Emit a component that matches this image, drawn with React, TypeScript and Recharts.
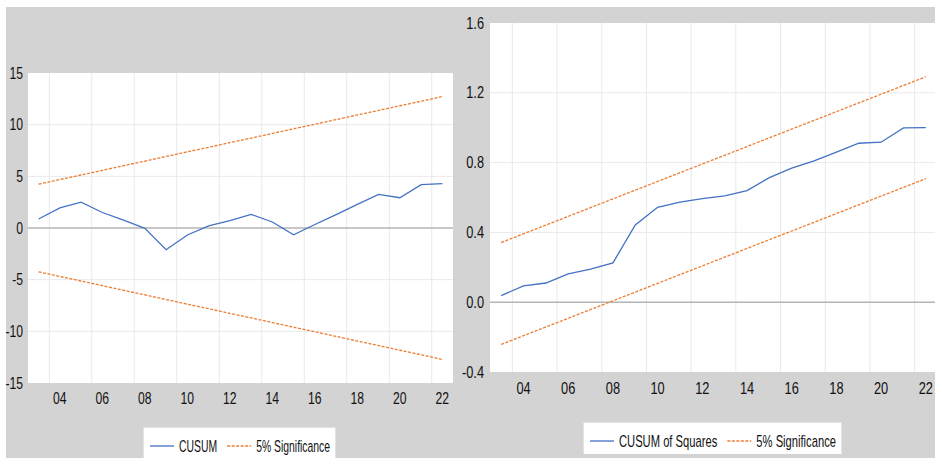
import { LineChart, Line, XAxis, YAxis, CartesianGrid, ReferenceLine, Legend } from "recharts";

const years = [
  2003, 2004, 2005, 2006, 2007, 2008, 2009, 2010, 2011, 2012,
  2013, 2014, 2015, 2016, 2017, 2018, 2019, 2020, 2021, 2022,
];
const cusum = [
  0.87, 1.94, 2.5, 1.5, 0.76, -0.03, -2.1, -0.68, 0.2, 0.72,
  1.32, 0.58, -0.65, 0.34, 1.3, 2.28, 3.26, 2.93, 4.2, 4.29,
];
const cusumUpper = [
  4.24, 4.69, 5.13, 5.58, 6.03, 6.47, 6.92, 7.37, 7.81, 8.26,
  8.7, 9.15, 9.6, 10.04, 10.49, 10.94, 11.38, 11.83, 12.27, 12.72,
];
const cusumLower = [
  -4.24, -4.69, -5.13, -5.58, -6.03, -6.47, -6.92, -7.37, -7.81, -8.26,
  -8.7, -9.15, -9.6, -10.04, -10.49, -10.94, -11.38, -11.83, -12.27, -12.72,
];
const cusumSq = [
  0.038, 0.093, 0.11, 0.162, 0.189, 0.225, 0.443, 0.544, 0.573, 0.594,
  0.609, 0.64, 0.714, 0.768, 0.81, 0.86, 0.911, 0.917, 0.999, 1.0,
];
const sqUpper = [
  0.342, 0.392, 0.442, 0.492, 0.542, 0.592, 0.642, 0.692, 0.742, 0.792,
  0.842, 0.892, 0.942, 0.992, 1.042, 1.092, 1.142, 1.192, 1.242, 1.292,
];
const sqLower = [
  -0.242, -0.192, -0.142, -0.092, -0.042, 0.008, 0.058, 0.108, 0.158, 0.208,
  0.258, 0.308, 0.358, 0.408, 0.458, 0.508, 0.558, 0.608, 0.658, 0.708,
];

const xTicks = [2004, 2006, 2008, 2010, 2012, 2014, 2016, 2018, 2020, 2022];
const xGrid = [2003.5, 2005.5, 2007.5, 2009.5, 2011.5, 2013.5, 2015.5, 2017.5, 2019.5, 2021.5];
const cusumTicks = [-15, -10, -5, 0, 5, 10, 15];
const sqTicks = [-0.4, 0.0, 0.4, 0.8, 1.2, 1.6];
const legendOrder = ["CUSUM", "CUSUM of Squares", "5% Significance"];

const leftData = years.map((year, i) => ({
  year,
  cusum: cusum[i],
  upper: cusumUpper[i],
  lower: cusumLower[i],
}));
const rightData = years.map((year, i) => ({
  year,
  sq: cusumSq[i],
  upper: sqUpper[i],
  lower: sqLower[i],
}));

const BLUE = "#4472c4";
const ORANGE = "#ed7d31";
const GRID = "#e9e9e9";
const ZERO = "#b4b4b4";
const FONT = "'Liberation Sans', Arial, sans-serif";
const FS = 16;

let ctx: CanvasRenderingContext2D | null = null;
function textWidth(s: string) {
  if (!ctx) ctx = document.createElement("canvas").getContext("2d");
  if (!ctx) return s.length * FS * 0.55;
  ctx.font = `${FS}px ${FONT}`;
  return ctx.measureText(s).width;
}

// condensed-looking tick labels: plain font squeezed horizontally
function NarrowTick({ x, y, payload, sx, fmt, axis }: any) {
  const label = fmt ? fmt(payload.value) : String(payload.value);
  return (
    <text
      transform={`translate(${x},${y}) scale(${sx},1)`}
      textAnchor={axis === "x" ? "middle" : "end"}
      dy={axis === "x" ? "0.71em" : "0.355em"}
      fill="#111"
      fontSize={FS}
      fontFamily={FONT}
    >
      {label}
    </text>
  );
}

function LegendBox({ payload, sx, center }: any) {
  const items = (payload || [])
    .filter((p: any) => p.type !== "none")
    .sort((a: any, b: any) => legendOrder.indexOf(a.value) - legendOrder.indexOf(b.value));
  const iconW = 24;
  let cursor = 7;
  const laid = items.map((p: any, i: number) => {
    const start = cursor + (i > 0 ? 10 : 0);
    const tw = textWidth(p.value) * sx;
    cursor = start + iconW + 5 + tw;
    return { p, start, tw };
  });
  const w = cursor + 6;
  return (
    <svg width={w} height={32} style={{ display: "block", marginLeft: center - w / 2 }}>
      <rect x={0.5} y={0.5} width={w - 1} height={40} fill="#fff" stroke="#e2e2e2" />
      {laid.map(({ p, start }: any) => (
        <g key={p.value} transform={`translate(${start},0)`}>
          <line
            x1={0}
            y1={19}
            x2={iconW}
            y2={19}
            stroke={p.color}
            strokeWidth={1.3}
            strokeDasharray={p.payload?.strokeDasharray}
          />
          <text
            transform={`translate(${iconW + 5},19) scale(${sx},1)`}
            dy="0.355em"
            fill="#111"
            fontSize={FS}
            fontFamily={FONT}
          >
            {p.value}
          </text>
        </g>
      ))}
    </svg>
  );
}

const yearFmt = (v: number) => String(v).slice(2);

export default function App() {
  return (
    <div
      style={{
        position: "absolute",
        left: 0,
        top: 0,
        width: 935,
        height: 458,
        overflow: "hidden",
        background: "#fff",
      }}
    >
      <div
        style={{
          position: "absolute",
          left: 6,
          top: 7,
          width: 929,
          height: 451,
          background: "#d3d3d3",
        }}
      />

      <div style={{ position: "absolute", left: 0, top: 0 }}>
        <LineChart
          width={470}
          height={458}
          data={leftData}
          margin={{ top: 73, right: 17, bottom: 45, left: 0 }}
        >
          <CartesianGrid
            fill="#fff"
            stroke={GRID}
            horizontalValues={[-10, -5, 5, 10]}
            verticalValues={xGrid}
          />
          <XAxis
            dataKey="year"
            type="number"
            domain={[2002.5, 2022.5]}
            ticks={xTicks}
            axisLine={false}
            tickSize={0}
            tickMargin={10}
            height={30}
            interval={0}
            tick={<NarrowTick sx={0.76} fmt={yearFmt} axis="x" />}
          />
          <YAxis
            domain={[-15, 15]}
            ticks={cusumTicks}
            axisLine={false}
            tickSize={0}
            tickMargin={5}
            width={28}
            interval={0}
            tick={<NarrowTick sx={0.76} axis="y" />}
          />
          <ReferenceLine y={0} stroke={ZERO} strokeWidth={1.5} />
          <Legend
            layout="vertical"
            align="center"
            verticalAlign="middle"
            wrapperStyle={{ left: 0, top: 427, width: 470 }}
            content={(props: any) => <LegendBox {...props} sx={0.65} center={240} />}
          />
          <Line
            dataKey="cusum"
            name="CUSUM"
            stroke={BLUE}
            strokeWidth={1.3}
            dot={false}
            isAnimationActive={false}
          />
          <Line
            dataKey="upper"
            name="5% Significance"
            stroke={ORANGE}
            strokeWidth={1.3}
            strokeDasharray="3 1.5"
            dot={false}
            isAnimationActive={false}
          />
          <Line
            dataKey="lower"
            name="5% Significance lower"
            legendType="none"
            stroke={ORANGE}
            strokeWidth={1.3}
            strokeDasharray="3 1.5"
            dot={false}
            isAnimationActive={false}
          />
        </LineChart>
      </div>

      <div style={{ position: "absolute", left: 455, top: 0 }}>
        <LineChart
          width={482}
          height={458}
          data={rightData}
          margin={{ top: 23, right: 0, bottom: 56, left: 0 }}
        >
          <CartesianGrid
            fill="#fff"
            stroke={GRID}
            horizontalValues={[0.4, 0.8, 1.2]}
            verticalValues={xGrid}
          />
          <XAxis
            dataKey="year"
            type="number"
            domain={[2002.5, 2022.5]}
            ticks={xTicks}
            axisLine={false}
            tickSize={0}
            tickMargin={11}
            height={30}
            interval={0}
            tick={<NarrowTick sx={0.8} fmt={yearFmt} axis="x" />}
          />
          <YAxis
            domain={[-0.4, 1.6]}
            ticks={sqTicks}
            axisLine={false}
            tickSize={0}
            tickMargin={6}
            width={35}
            interval={0}
            tick={<NarrowTick sx={0.8} fmt={(v: number) => v.toFixed(1)} axis="y" />}
          />
          <ReferenceLine y={0} stroke={ZERO} strokeWidth={1.5} />
          <Legend
            layout="vertical"
            align="center"
            verticalAlign="middle"
            wrapperStyle={{ left: 0, top: 422, width: 482 }}
            content={(props: any) => <LegendBox {...props} sx={0.7} center={258} />}
          />
          <Line
            dataKey="sq"
            name="CUSUM of Squares"
            stroke={BLUE}
            strokeWidth={1.3}
            dot={false}
            isAnimationActive={false}
          />
          <Line
            dataKey="upper"
            name="5% Significance"
            stroke={ORANGE}
            strokeWidth={1.3}
            strokeDasharray="3 1.5"
            dot={false}
            isAnimationActive={false}
          />
          <Line
            dataKey="lower"
            name="5% Significance lower"
            legendType="none"
            stroke={ORANGE}
            strokeWidth={1.3}
            strokeDasharray="3 1.5"
            dot={false}
            isAnimationActive={false}
          />
        </LineChart>
      </div>
    </div>
  );
}
